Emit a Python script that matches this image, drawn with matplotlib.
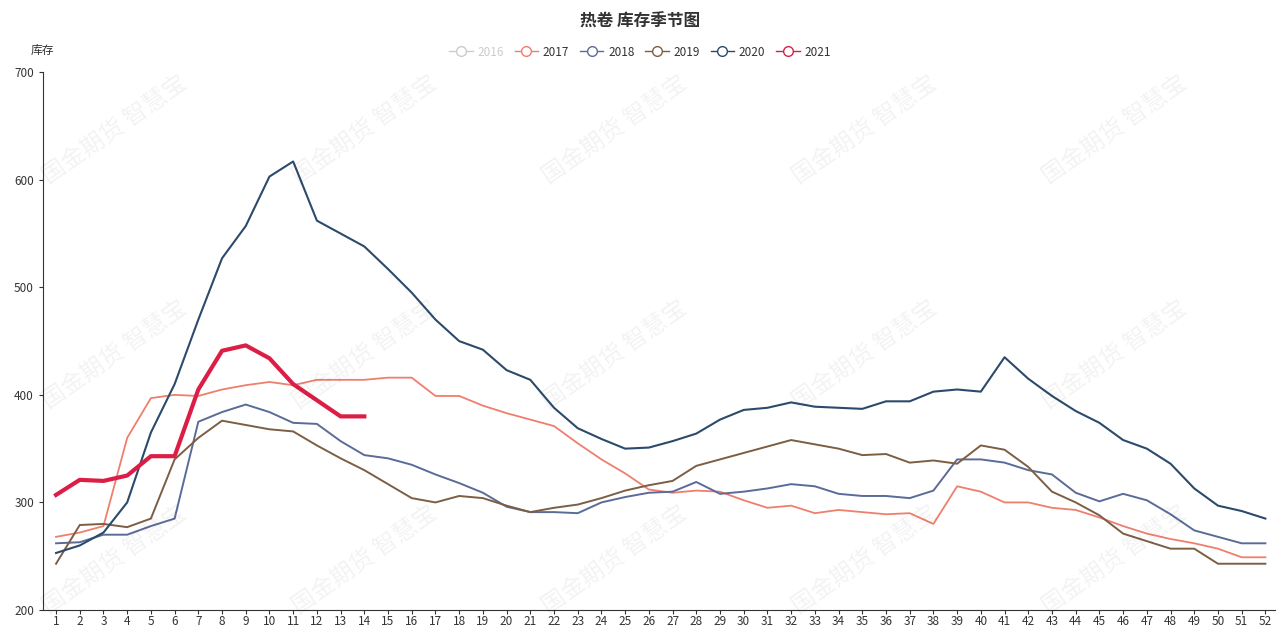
import matplotlib.pyplot as plt
import numpy as np
from matplotlib.lines import Line2D

plt.rcParams['font.family'] = ['Noto Sans CJK SC', 'DejaVu Sans']

weeks = np.arange(1, 53)

# weekly inventory
y2017 = [268, 272, 278, 360, 397, 400, 399, 405, 409, 412, 409, 414, 414, 414,
         416, 416, 399, 399, 390, 383, 377, 371, 355, 340, 327, 312, 309, 311,
         310, 302, 295, 297, 290, 293, 291, 289, 290, 280, 315, 310, 300, 300,
         295, 293, 286, 278, 271, 266, 262, 257, 249, 249]
y2018 = [262, 263, 270, 270, 278, 285, 375, 384, 391, 384, 374, 373, 357, 344,
         341, 335, 326, 318, 309, 296, 291, 291, 290, 300, 305, 309, 310, 319,
         308, 310, 313, 317, 315, 308, 306, 306, 304, 311, 340, 340, 337, 330,
         326, 309, 301, 308, 302, 289, 274, 268, 262, 262]
y2019 = [243, 279, 280, 277, 285, 340, 360, 376, 372, 368, 366, 353, 341, 330,
         317, 304, 300, 306, 304, 297, 291, 295, 298, 304, 311, 316, 320, 334,
         340, 346, 352, 358, 354, 350, 344, 345, 337, 339, 336, 353, 349, 333,
         310, 300, 288, 271, 264, 257, 257, 243, 243, 243]
y2020 = [253, 260, 272, 300, 365, 410, 470, 527, 557, 603, 617, 562, 550, 538,
         517, 495, 470, 450, 442, 423, 414, 388, 369, 359, 350, 351, 357, 364,
         377, 386, 388, 393, 389, 388, 387, 394, 394, 403, 405, 403, 435, 415,
         399, 385, 374, 358, 350, 336, 313, 297, 292, 285]
y2021 = [307, 321, 320, 325, 343, 343, 405, 441, 446, 434, 410, 395, 380, 380]

series = [
    ('2017', y2017, '#ee7f6d', 1.3),
    ('2018', y2018, '#5b6b98', 1.4),
    ('2019', y2019, '#7c5e44', 1.4),
    ('2020', y2020, '#2c4a6b', 1.5),
    ('2021', y2021, '#dc1e46', 3.0),
]

fig = plt.figure(figsize=(12.8, 6.28), dpi=100)
ax = fig.add_axes([0.0336, 0.0287, 0.9624, 0.8563])

# watermark
for i in range(5):
    for j, yc in enumerate((130, 355, 560)):
        fig.text((115 + 250 * i) / 1280, 1 - yc / 628,
                 '国金期货 智慧宝', fontsize=17, color='#000000', alpha=0.05,
                 rotation=35, ha='center', va='center')

for name, vals, color, lw in series:
    ax.plot(weeks[:len(vals)], vals, color=color, lw=lw, zorder=3)

ax.set_xlim(0.45, 52.4)
ax.set_ylim(200, 700)
ax.set_xticks(weeks)
ax.set_xticklabels([str(w) for w in weeks])
ax.set_yticks(np.arange(200, 701, 100))
for s in ('top', 'right'):
    ax.spines[s].set_visible(False)
for s in ('left', 'bottom'):
    ax.spines[s].set_color('#333333')
ax.tick_params(axis='both', labelsize=8.5, colors='#333333', length=3)
ax.tick_params(axis='x', pad=0.5)

fig.text(0.5, 0.965, '热卷 库存季节图', ha='center', va='center',
         fontsize=12, fontweight='bold', color='#333333')
fig.text(0.033, 0.92, '库存', ha='center', va='center', fontsize=8.5,
         color='#333333', style='italic')

handles = [Line2D([], [], color='#cccccc', lw=1, marker='o', ms=7,
                  markerfacecolor='white', markeredgecolor='#cccccc')]
labels = ['2016']
for name, vals, color, lw in series:
    handles.append(Line2D([], [], color=color, lw=1, marker='o', ms=7,
                          markerfacecolor='white', markeredgecolor=color))
    labels.append(name)
leg = fig.legend(handles, labels, loc='center', bbox_to_anchor=(0.5, 0.917),
                 ncol=6, frameon=False, fontsize=8.5, handlelength=2.0,
                 columnspacing=0.9, handletextpad=0.4)
leg.get_texts()[0].set_color('#cccccc')
for t in leg.get_texts()[1:]:
    t.set_color('#333333')

fig.savefig('out.png', dpi=100)
